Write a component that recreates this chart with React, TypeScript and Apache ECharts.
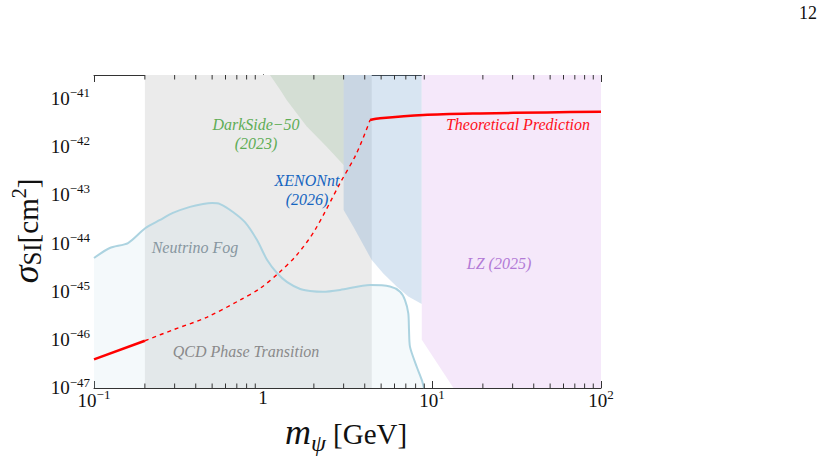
import React, { useEffect, useRef } from 'react';
import * as echarts from 'echarts';

const SERIF = '"Liberation Serif", "Times New Roman", serif';

// Axis ranges (GeV, cm^2)
const X_RANGE = [0.1, 100];
const Y_RANGE = [1e-47, 3e-41];

// Theoretical prediction (solid / dashed / solid)
const predictionLow = [[0.1, 3.9e-47], [0.2, 9.5e-47]];
const predictionDashed = [
  [0.2, 9.5e-47], [0.294, 1.6e-46], [0.464, 2.9e-46], [0.731, 6.6e-46], [0.96, 1.15e-45],
  [1.23, 2.35e-45], [1.58, 5.6e-45], [2.03, 1.86e-44], [2.86, 1.74e-43], [3.58, 7.2e-43], [4.3, 3.5e-42],
];
const predictionHigh = [
  [4.3, 3.5e-42], [4.92, 3.8e-42], [8.9, 4.45e-42], [19.2, 4.8e-42], [47.7, 5.05e-42], [100, 5.2e-42],
];

// Neutrino fog boundary
const neutrinoFog = [
  [0.1, 4.9e-45], [0.124, 7.9e-45], [0.159, 1.0e-44], [0.2, 2.0e-44], [0.246, 3.0e-44], [0.293, 4.2e-44],
  [0.37, 5.6e-44], [0.442, 6.4e-44], [0.5, 6.7e-44], [0.557, 6.4e-44], [0.664, 4.4e-44], [0.782, 2.7e-44],
  [0.922, 1.15e-44], [1.056, 4.5e-45], [1.21, 2.4e-45], [1.39, 1.55e-45], [1.66, 1.12e-45], [1.9, 1.02e-45],
  [2.26, 9.8e-46], [2.86, 1.07e-45], [4.3, 1.35e-45], [5.64, 1.26e-45], [6.47, 9.8e-46], [6.92, 6.6e-46],
  [7.24, 3.5e-46], [7.31, 1.6e-46], [7.41, 7.1e-47], [8.12, 2.75e-47], [8.7, 1.47e-47], [8.97, 1e-47],
];
const neutrinoFogFloor = [[0.1, 1e-47]];

// Excluded / special regions
const qcdRegion = [[0.2, 1e-47], [0.2, 3e-41], [4.4, 3e-41], [4.4, 1e-47]];
const darkSideRegion = [
  [1.1, 3e-41], [1.26, 1.5e-41], [1.38, 9.1e-42], [1.81, 2.6e-42], [2.38, 9.8e-43], [3.0, 4.1e-43], [3.0, 3e-41],
];
const xenonRegion = [
  [3.0, 3e-41], [8.7, 3e-41], [8.7, 5.5e-46], [7.24, 7.8e-46], [6.18, 1.26e-45], [5.15, 2.35e-45],
  [4.39, 4.5e-45], [3.42, 2.2e-44], [3.0, 4.8e-44],
];
const lzRegion = [[8.7, 3e-41], [100, 3e-41], [100, 1e-47], [13.4, 1e-47], [8.7, 1e-46]];

const minorTicks = [
  0.2, 0.3, 0.4, 0.5, 0.6, 0.7, 0.8, 0.9,
  2, 3, 4, 5, 6, 7, 8, 9,
  20, 30, 40, 50, 60, 70, 80, 90,
];

// log10 transform so that the value axes act as decade (log) scales
const L = (pts: number[][]) => pts.map(([x, y]) => [Math.log10(x), Math.log10(y)]);
const LX = [Math.log10(X_RANGE[0]), Math.log10(X_RANGE[1])];
const LY = [Math.log10(Y_RANGE[0]), Math.log10(Y_RANGE[1])];

type Tok = { key: string; size: number; italic?: boolean; shift: number };
const buildRich = (toks: Tok[], D: number, color: string) => {
  const rich: any = {};
  let maxLH = 0;
  toks.forEach((t) => {
    const pb = D - 0.1625 * t.size + t.shift;
    const lh = t.size + pb;
    maxLH = Math.max(maxLH, lh);
    rich[t.key] = {
      fontFamily: SERIF,
      fontSize: t.size,
      fontStyle: t.italic ? 'italic' : 'normal',
      height: t.size,
      padding: [0, 0, pb, 0],
      lineHeight: lh,
      verticalAlign: 'bottom',
      fill: color,
      color,
    };
  });
  return { rich, baselineOffset: maxLH / 2 - D };
};

const tickLabel = buildRich(
  [
    { key: 'b', size: 19, shift: 0 },
    { key: 's', size: 13, shift: 8 },
  ],
  6.1,
  '#111'
);

const fmtPow = (e: number) => {
  const r = Math.round(e);
  if (Math.abs(e - r) > 1e-6) return '';
  if (r === 0) return '{b|1}';
  return `{b|10}{s|${r < 0 ? '\u2212' : ''}${Math.abs(r)}}`;
};

const xTitle = buildRich(
  [
    { key: 'm', size: 36, italic: true, shift: 0 },
    { key: 'p', size: 24, italic: true, shift: -7 },
    { key: 'r', size: 29, shift: 0 },
  ],
  14,
  '#111'
);
const yTitle = buildRich(
  [
    { key: 'g', size: 36, italic: true, shift: 0 },
    { key: 'i', size: 25, shift: -3 },
    { key: 'r', size: 29, shift: 0 },
    { key: 'u', size: 20, shift: 12 },
  ],
  14,
  '#111'
);

const polySeries = (name: string, pts: number[][], fill: string, z: number) => {
  const lp = L(pts);
  return {
    type: 'custom',
    name,
    coordinateSystem: 'cartesian2d',
    data: lp,
    z,
    silent: true,
    renderItem: (params: any, api: any) => {
      if (params.dataIndex !== 0) return null;
      return {
        type: 'polygon',
        shape: { points: lp.map((p) => api.coord(p)) },
        style: { fill, stroke: 'none' },
      };
    },
  };
};

const regionText = (text: string, x: number, y: number, fill: string) => ({
  type: 'text',
  x,
  y,
  z: 100,
  silent: true,
  style: {
    text,
    fill,
    fontFamily: SERIF,
    fontSize: 16,
    fontStyle: 'italic',
    lineHeight: 19,
    align: 'center',
    verticalAlign: 'middle',
    textAlign: 'center',
    textVerticalAlign: 'middle',
  },
});

export default function App() {
  const ref = useRef<HTMLDivElement>(null);
  useEffect(() => {
    if (!ref.current) return;
    const chart = echarts.init(ref.current, undefined, { renderer: 'svg' });
    const axisLine = { show: true, lineStyle: { color: '#333', width: 1 } };
    const tick = (len: number) => ({ show: true, inside: true, length: len, lineStyle: { color: '#333', width: 1 } });
    const option: any = {
      animation: false,
      backgroundColor: '#fff',
      grid: { left: 94, right: 224, top: 75, bottom: 71 },
      xAxis: [
        {
          type: 'value', min: LX[0], max: LX[1], interval: 1, position: 'bottom',
          axisLine, axisTick: tick(7), splitLine: { show: false },
          axisLabel: { formatter: fmtPow, rich: tickLabel.rich, margin: 0 },
        },
        {
          type: 'value', min: LX[0], max: LX[1], interval: 1, position: 'top',
          axisLine, axisTick: tick(7), splitLine: { show: false }, axisLabel: { show: false },
        },
      ],
      yAxis: [
        {
          type: 'value', min: LY[0], max: LY[1], interval: 1, position: 'left',
          axisLine, axisTick: tick(5), splitLine: { show: false },
          axisLabel: { formatter: fmtPow, rich: tickLabel.rich, margin: 4 },
        },
        {
          type: 'value', min: LY[0], max: LY[1], interval: 1, position: 'right',
          axisLine, axisTick: tick(4), splitLine: { show: false }, axisLabel: { show: false },
        },
      ],
      series: [
        polySeries('QCD Phase Transition', qcdRegion, '#ebebeb', 1),
        polySeries('Neutrino Fog area', [...neutrinoFog, ...neutrinoFogFloor], 'rgba(182,215,229,0.15)', 2),
        polySeries('DarkSide-50', darkSideRegion, 'rgba(120,170,120,0.2)', 3),
        polySeries('XENONnT', xenonRegion, 'rgba(100,151,203,0.25)', 3),
        polySeries('LZ', lzRegion, '#f5e8fa', 3),
        {
          type: 'line', name: 'Neutrino Fog', data: L(neutrinoFog), showSymbol: false, smooth: 0.25, z: 5,
          lineStyle: { color: '#acd3e0', width: 2 }, silent: true,
        },
        {
          type: 'line', name: 'Prediction low', data: L(predictionLow), showSymbol: false, z: 10,
          lineStyle: { color: '#ff0000', width: 2.5 }, silent: true,
        },
        {
          type: 'line', name: 'Prediction QCD', data: L(predictionDashed), showSymbol: false, smooth: 0.3, z: 10,
          lineStyle: { color: '#ff0000', width: 1.4, type: [4, 4] }, silent: true,
        },
        {
          type: 'line', name: 'Prediction high', data: L(predictionHigh), showSymbol: false, smooth: 0.3, z: 10,
          lineStyle: { color: '#ff0000', width: 2.5 }, silent: true,
        },
        {
          type: 'custom', name: 'minor ticks', coordinateSystem: 'cartesian2d', z: 20, silent: true,
          data: minorTicks.map((v) => [Math.log10(v), LY[0]]),
          renderItem: (params: any, api: any) => {
            const x = api.coord([api.value(0), LY[0]])[0];
            const cs = params.coordSys;
            const b = cs.y + cs.height;
            return {
              type: 'group',
              children: [
                { type: 'line', shape: { x1: x, y1: b, x2: x, y2: b - 4.5 }, style: { stroke: '#333', lineWidth: 1 } },
                { type: 'line', shape: { x1: x, y1: cs.y, x2: x, y2: cs.y + 4.5 }, style: { stroke: '#333', lineWidth: 1 } },
              ],
            };
          },
        },
      ],
      graphic: [
        {
          type: 'text', x: 817, y: 13, z: 100,
          style: { text: '12', fill: '#111', fontFamily: SERIF, fontSize: 18, align: 'right', verticalAlign: 'middle', textAlign: 'right', textVerticalAlign: 'middle' },
        },
        {
          type: 'text', x: 346, y: 444 - xTitle.baselineOffset, z: 100,
          style: {
            text: '{m|m}{p|\u03c8}{r| [GeV]}', rich: xTitle.rich, fill: '#111',
            align: 'center', verticalAlign: 'middle', textAlign: 'center', textVerticalAlign: 'middle',
          },
        },
        {
          type: 'text', x: 38 - yTitle.baselineOffset, y: 231, rotation: Math.PI / 2, z: 100,
          style: {
            text: '{g|\u03c3}{i|SI}{r|[cm}{u|2}{r|]}', rich: yTitle.rich, fill: '#111',
            align: 'center', verticalAlign: 'middle', textAlign: 'center', textVerticalAlign: 'middle',
          },
        },
        regionText('DarkSide\u221250\n(2023)', 256, 134, '#5fad56'),
        regionText('XENONnt\n(2026)', 307, 190, '#1565c0'),
        regionText('Neutrino Fog', 195, 247, '#8796a0'),
        regionText('QCD Phase Transition', 246, 351, '#8a8a8a'),
        regionText('LZ (2025)', 499, 263, '#b27ad6'),
        regionText('Theoretical Prediction', 518, 124, '#ff1020'),
      ],
    };
    chart.setOption(option);
    return () => chart.dispose();
  }, []);
  return <div ref={ref} style={{ position: 'fixed', left: 0, top: 0, width: 825, height: 459 }} />;
}
